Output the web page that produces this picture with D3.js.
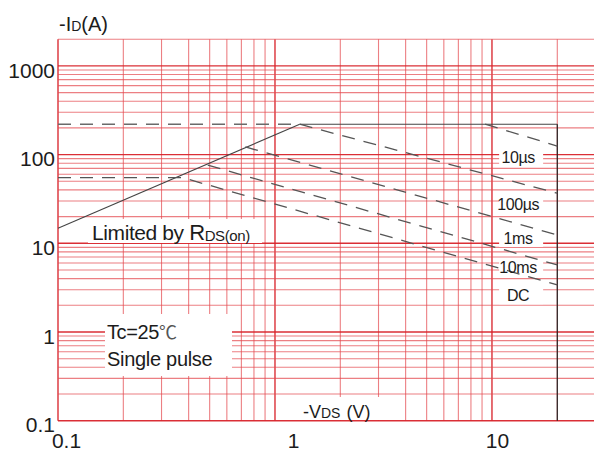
<!DOCTYPE html>
<html>
<head>
<meta charset="utf-8">
<script src="https://cdn.jsdelivr.net/npm/d3@7/dist/d3.min.js"></script>
<style>
  body { margin: 0; background: #fff; }
  svg text { font-family: "Liberation Sans", Arial, sans-serif; fill: #1c1c1c; }
</style>
</head>
<body>
<div id="grafik"></div>
<script>
// safe operating area, -VDS (V) vs -ID (A)
const xTicks = [0.1, 1, 10];
const yTicks = [0.1, 1, 10, 100, 1000];
const rdsLimit = [[0.1, 14.8], [1.3, 220]];
const idmDashed = [[0.1, 220], [1.3, 220]];
const idmSolid = [[1.3, 220], [20, 220]];
const vdsMax = [[20, 220], [20, 0.1]];
const curve10us = [[9.3, 220], [20, 125]];
const curve100us = [[1.3, 220], [20, 36.7]];
const curve1ms = [[0.73, 122], [20, 12.4]];
const curve10ms = [[0.49, 76], [20, 5.7]];
const curveDC = [[0.1, 55], [0.375, 55], [20, 3.4]];
const pulseLabels = ["10µs", "100µs", "1ms", "10ms", "DC"];

// where the pulse labels sit (in axis units)
const pulseLabelV = 13.2;
const pulseLabelA = [94, 27.7, 11.5, 5.4, 2.6];
const xLabelNudge = {0.1: 8, 1: 18, 10: 5};

const W = 594, H = 452;
const svg = d3.select("#grafik").append("svg")
  .attr("width", W).attr("height", H);

const x = d3.scaleLog().domain([0.1, 30]).range([58, 595.5]);
const y = d3.scaleLog().domain([0.1, 2000]).range([420.7, 39.2]);

const isDecade = v => Math.abs(Math.log10(v) - Math.round(Math.log10(v))) < 1e-6;

// red grid
const grid = svg.append("g");
grid.selectAll(".vx")
  .data(x.ticks().filter(v => v < 25))
  .enter().append("line")
  .attr("x1", d => x(d)).attr("x2", d => x(d))
  .attr("y1", y(2000)).attr("y2", y(0.1))
  .attr("stroke", d => isDecade(d) ? "#d8242b" : "#e4484f")
  .attr("stroke-opacity", d => isDecade(d) ? 0.95 : 0.7)
  .attr("stroke-width", d => isDecade(d) ? 1.4 : 1.1);

grid.selectAll(".hy")
  .data(y.ticks())
  .enter().append("line")
  .attr("x1", x(0.1)).attr("x2", W)
  .attr("y1", d => y(d)).attr("y2", d => y(d))
  .attr("stroke", d => isDecade(d) ? "#d8242b" : "#e4484f")
  .attr("stroke-opacity", d => isDecade(d) ? 0.95 : 0.7)
  .attr("stroke-width", d => isDecade(d) ? 1.4 : 1.1);

// white boxes behind the notes
function box(x0, y0, x1, y1) {
  svg.append("rect").attr("x", x0).attr("y", y0)
    .attr("width", x1 - x0).attr("height", y1 - y0).attr("fill", "#fff");
}
box(88, 219, 262, 243);
box(105, 314, 232, 376);
box(280, 397, 400, 420);
pulseLabelA.forEach(a => box(x(pulseLabelV) - 19, y(a) - 9, x(pulseLabelV) + 25, y(a) + 9));

// curves
const line = d3.line().x(d => x(d[0])).y(d => y(d[1]));
const dash = "13,9";

function draw(pts, stroke, w, dashed) {
  svg.append("path").datum(pts)
    .attr("d", line)
    .attr("fill", "none")
    .attr("stroke", stroke)
    .attr("stroke-width", w)
    .attr("stroke-dasharray", dashed ? dash : null);
}
draw(rdsLimit, "#444", 1.1, false);
draw(idmSolid, "#444", 1.1, false);
draw(vdsMax, "#222", 1.2, false);
draw(idmDashed, "#6a6a6a", 1.4, true);
[curve10us, curve100us, curve1ms, curve10ms, curveDC].forEach(c => draw(c, "#555", 1.3, true));

// axes
svg.append("g")
  .attr("transform", `translate(${x(0.1)},0)`)
  .call(d3.axisLeft(y).tickValues(yTicks).tickSize(0).tickPadding(3).tickFormat(d => String(d)))
  .call(g => g.select(".domain").remove())
  .selectAll("text")
  .attr("y", 4.5)
  .style("font-size", "21px")
  .style("font-family", "Liberation Sans, Arial, sans-serif")
  .attr("fill", "#1c1c1c");

svg.append("g")
  .attr("transform", `translate(0,${y(0.1)})`)
  .call(d3.axisBottom(x).tickValues(xTicks).tickSize(0).tickPadding(12).tickFormat(d => String(d)))
  .call(g => g.select(".domain").remove())
  .selectAll("text")
  .attr("x", d => xLabelNudge[d])
  .style("font-size", "21px")
  .style("font-family", "Liberation Sans, Arial, sans-serif")
  .attr("fill", "#1c1c1c");

// axis titles
const yTitle = svg.append("text").attr("x", 59).attr("y", 31);
yTitle.append("tspan").style("font-size", "20px").text("-I");
yTitle.append("tspan").style("font-size", "14px").text("D");
yTitle.append("tspan").style("font-size", "20px").text("(A)");

const xTitle = svg.append("text").attr("x", 303).attr("y", 418);
xTitle.append("tspan").style("font-size", "18px").text("-V");
xTitle.append("tspan").style("font-size", "14px").text("DS");
xTitle.append("tspan").attr("dx", 6).style("font-size", "18px").text("(V)");

// notes
const rds = svg.append("text").attr("x", 92).attr("y", 240).style("letter-spacing", "-0.4px");
rds.append("tspan").style("font-size", "21px").text("Limited by ");
rds.append("tspan").style("font-size", "22px").text("R");
rds.append("tspan").style("font-size", "15px").attr("dy", 1).text("DS(on)");

const tc = svg.append("text").attr("x", 107).attr("y", 339).style("letter-spacing", "-0.4px");
tc.append("tspan").style("font-size", "20px").text("Tc=25");
tc.append("tspan").style("font-size", "18px").style("font-family", "Noto Sans CJK SC").attr("fill", "#555").text("℃");
svg.append("text").attr("x", 107).attr("y", 366)
  .style("font-size", "20px").style("letter-spacing", "-0.3px").text("Single pulse");

svg.selectAll(".pulse-label")
  .data(pulseLabels)
  .enter().append("text")
  .attr("class", "pulse-label")
  .attr("x", x(pulseLabelV))
  .attr("y", (d, i) => y(pulseLabelA[i]))
  .attr("dy", "0.35em")
  .attr("text-anchor", "middle")
  .style("font-size", "16px")
  .style("letter-spacing", "-0.4px")
  .text(d => d);
</script>
</body>
</html>
